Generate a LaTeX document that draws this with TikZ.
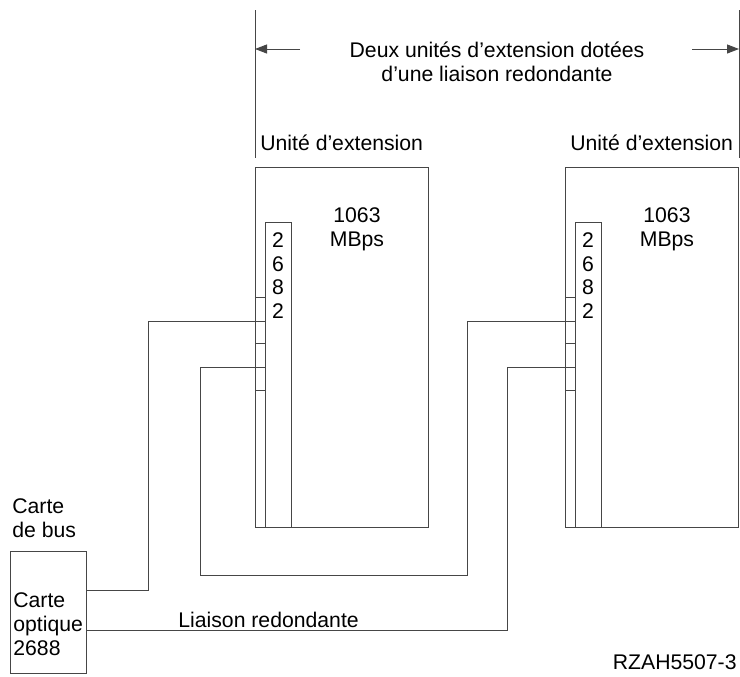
\documentclass[tikz,border=0pt]{standalone}
\usepackage{fontspec}
\setmainfont{Liberation Sans}
\usetikzlibrary{arrows.meta}

\definecolor{mylinegray}{RGB}{70,70,70}

\begin{document}
\begin{tikzpicture}[x=0.5pt,y=-0.5pt,
    box/.style={draw=mylinegray,line width=0.5pt,inner sep=0pt,anchor=north west},
    wire/.style={draw=mylinegray,line width=0.5pt},
    lbl/.style={inner sep=0pt,font=\fontsize{10.6}{12}\selectfont}]
  \useasboundingbox (0,0) rectangle (740,676);

  % the two extension units
  \foreach \u/\x in {A/255,B/565} {
    \node[box,minimum width=86.5pt,minimum height=180pt] (unit\u) at (\x,167) {};
    \node[box,minimum width=13pt,minimum height=152.5pt] (strip\u) at (\x+10,222) {};
    \foreach \y in {297,343,390}
      \draw[wire] (\x,\y) -- (\x+10,\y);
    \foreach \d [count=\i] in {2,6,8,2}
      \node[lbl,anchor=base] (digit\u\i) at (\x+23,247.5+23.7*\i-23.7) {\d};
    \node[lbl,anchor=base] (rate\u) at (\x+102,222) {1063};
    \node[lbl,anchor=base] (mbps\u) at (\x+102,246) {MBps};
    \node[lbl,anchor=base west] (title\u) at (\x+5,150) {Unité d'extension};
  }

  % span of the two units
  \draw[wire] (unitA.north west |- 0,10) -- (unitA.north west |- 0,158);
  \draw[wire] (unitB.north east |- 0,10) -- (unitB.north east |- 0,158);
  \coordinate (spanL) at (unitA.north west |- 0,49);
  \coordinate (spanR) at (unitB.north east |- 0,49);
  \draw[wire,-{Triangle[length=6pt,width=4.5pt]}] (300,49) -- (spanL);
  \draw[wire,-{Triangle[length=6pt,width=4.5pt]}] (692,49) -- (spanR);
  \node[lbl,align=center] (heading) at (497,62)
    {Deux unités d'extension dotées\\d'une liaison redondante};

  % bus card
  \node[lbl,align=left,anchor=west] (buslabel) at (12,518) {Carte\\de bus};
  \node[box,minimum width=38pt,minimum height=61pt] (card) at (10,551) {};
  \node[lbl,align=left,anchor=west] (cardtext) at (13,624) {Carte\\optique\\2688};

  % links
  \draw[wire] (card.east |- 0,590) -| (148,321) -- (stripA.west |- 0,321);
  \draw[wire] (stripA.west |- 0,367) -| (200,575) -| (467,321) -- (stripB.west |- 0,321);
  \draw[wire] (card.east |- 0,630) -| (507,367) -- (stripB.west |- 0,367);
  \node[lbl,anchor=base west] (redundant) at (178,627) {Liaison redondante};

  \node[lbl,anchor=base east] (figid) at (737,669) {RZAH5507-3};
\end{tikzpicture}
\end{document}
